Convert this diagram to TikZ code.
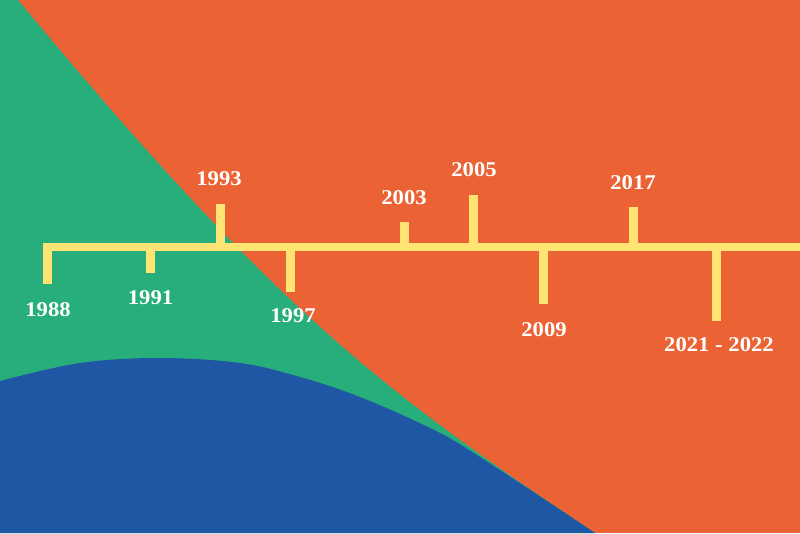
\documentclass[tikz,border=0pt]{standalone}
\usepackage{fontspec}
\setmainfont{Liberation Serif}
\definecolor{bgorange}{HTML}{EB6234}
\definecolor{bggreen}{HTML}{27AE7A}
\definecolor{bgblue}{HTML}{2057A5}
\definecolor{tlyellow}{HTML}{FFE473}
\tikzset{
  bar/.style={draw=tlyellow, line width=8.5pt, line cap=butt},
  yearlabel/.style={text=white, font=\bfseries\fontsize{21}{23}\selectfont, inner sep=0pt, anchor=center, xscale=1.08}
}
\begin{document}
\begin{tikzpicture}[x=1pt,y=-1pt]
\useasboundingbox (0,0) rectangle (800,533);
\clip (0,0) rectangle (800,533);
% background
\fill[bgorange] (0,0) rectangle (800,533);
\fill[bggreen] (0,0) -- (18,0) .. controls (273,307) and (376,387) .. (595,533) -- (0,533) -- cycle;
\fill[bgblue] (0,533) -- plot[smooth, tension=0.6] coordinates {(0,381) (80,363) (160,358) (240,363) (300,377) (360,397) (430,428) (477,455) (595,533)} -- cycle;
% timeline
\coordinate (start) at (43,247);
\coordinate (end) at (800,247);
\draw[bar] (start) -- (end);
\coordinate (b88) at (47.5,243); \coordinate (e88) at (47.5,284);
\coordinate (b91) at (150.5,247); \coordinate (e91) at (150.5,273);
\coordinate (b93) at (220.5,247); \coordinate (e93) at (220.5,204);
\coordinate (b97) at (290.5,247); \coordinate (e97) at (290.5,292);
\coordinate (b03) at (404.5,247); \coordinate (e03) at (404.5,222);
\coordinate (b05) at (473.5,247); \coordinate (e05) at (473.5,195);
\coordinate (b09) at (543.5,247); \coordinate (e09) at (543.5,304);
\coordinate (b17) at (633.5,247); \coordinate (e17) at (633.5,207);
\coordinate (b21) at (716.5,247); \coordinate (e21) at (716.5,321);
\foreach \t in {88,91,93,97,03,05,09,17,21} \draw[bar] (b\t) -- (e\t);
% labels
\node[yearlabel] (l88) at (48,310) {1988};
\node[yearlabel] (l91) at (150.5,298) {1991};
\node[yearlabel] (l93) at (219,179) {1993};
\node[yearlabel] (l97) at (293,316) {1997};
\node[yearlabel] (l03) at (404,198) {2003};
\node[yearlabel] (l05) at (474,170) {2005};
\node[yearlabel] (l09) at (544,330) {2009};
\node[yearlabel] (l17) at (633,183) {2017};
\node[yearlabel] (l21) at (719,345) {2021 - 2022};
\end{tikzpicture}
\end{document}
